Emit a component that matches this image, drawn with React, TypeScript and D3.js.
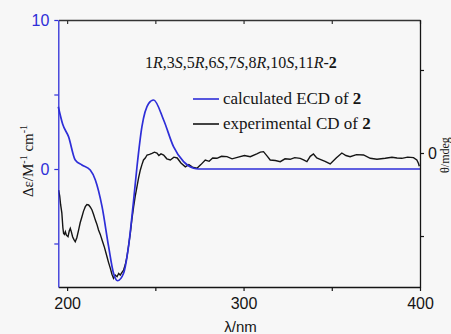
import React, { useEffect, useRef } from 'react';
import * as d3 from 'd3';

// calculated ECD (left axis, Δε)
const calcWl = [195, 197.5, 200.8, 204.6, 208.4, 213.1, 216, 219.8, 223.5, 226.3, 228.6, 232, 234.8, 237.7, 239.6, 242.4, 246.2, 249, 254.7, 260.3, 266, 271.7, 274.5, 300, 350, 400];
const calcDe = [4.18, 3.0, 2.17, 0.6, 0.27, -0.07, -0.74, -2.53, -5.2, -7.0, -7.5, -7.0, -5.2, -2.08, 0.15, 2.84, 4.4, 4.63, 3.29, 1.5, 0.49, 0.05, 0, 0, 0, 0];

// experimental CD (right axis, mdeg)
const expWl = [195.2, 195.8, 196.3, 197.0, 197.6, 198.0, 198.5, 199.0, 199.6, 200.5, 201.2, 201.8, 202.4, 203.1, 203.8, 204.6, 205.5, 206.5, 207.4, 208.4, 209.3, 210.3, 211.2, 212.2, 213.1, 214.1, 215.0, 216.0, 216.9, 217.8, 218.8, 219.8, 221.2, 222.6, 223.5, 224.5, 225.4, 226.3, 227.3, 228.3, 229.2, 230.1, 231.0, 232.0, 232.9, 233.9, 234.8, 235.8, 236.7, 237.7, 238.6, 239.6, 240.5, 241.5, 242.4, 243.3, 244.3, 245.3, 246.7, 248.1, 249.5, 250.9, 252.0, 253.2, 254.7, 256.5, 258.5, 260.5, 262.4, 264.5, 267.0, 269.0, 271.0, 273.6, 275.8, 278.3, 280.5, 282.5, 284.9, 287.5, 290.6, 293.5, 297.0, 300.5, 303.8, 307.5, 309.5, 311.3, 313.5, 315.1, 318.0, 320.8, 323.5, 326.4, 329.0, 332.1, 334.0, 335.9, 337.8, 339.6, 341.5, 343.4, 346.2, 349.1, 352.5, 355.7, 358.0, 360.4, 364.0, 368.0, 371.8, 375.6, 380.3, 384.1, 387.0, 389.7, 393.0, 396.3, 398.2, 399.1, 399.6];
const expCd = [-2.23, -2.6, -3.1, -3.6, -4.5, -4.84, -4.9, -4.74, -4.95, -5.04, -4.7, -4.54, -4.75, -5.04, -5.2, -5.34, -5.1, -4.64, -4.2, -3.84, -3.5, -3.23, -3.1, -3.13, -3.25, -3.43, -3.7, -4.04, -4.3, -4.64, -4.9, -5.24, -5.7, -6.25, -6.6, -6.95, -7.3, -7.55, -7.35, -7.45, -7.25, -7.35, -7.2, -7.05, -6.75, -6.25, -5.6, -4.84, -4.0, -3.23, -2.6, -2.03, -1.5, -1.02, -0.7, -0.42, -0.3, -0.12, -0.08, -0.02, 0.05, 0, -0.15, -0.05, -0.12, -0.35, -0.42, -0.25, -0.3, -0.6, -0.83, -0.7, -0.85, -0.92, -0.7, -0.42, -0.5, -0.3, -0.32, -0.2, -0.22, -0.35, -0.25, -0.15, -0.22, -0.05, 0.05, 0.08, -0.2, -0.42, -0.45, -0.52, -0.35, -0.38, -0.28, -0.32, -0.42, -0.52, -0.2, -0.06, -0.3, -0.38, -0.5, -0.66, -0.3, 0, -0.15, -0.22, -0.1, -0.12, -0.32, -0.38, -0.32, -0.26, -0.3, -0.32, -0.25, -0.28, -0.42, -0.62, -0.8];

const xTicks = [200, 250, 300, 350, 400];
const xLabels = [200, 300, 400];
const leftTicks = [-5, 0, 5, 10];
const leftLabels = [0, 10];
const rightTicks = [-5, 0, 5];
const rightLabels = [0];

const W = 451;
const H = 334;
const box = { left: 58.3, right: 420, top: 20, bottom: 287 };
const blue = '#2e2ed8';
const ink = '#151515';
const sans = '"Liberation Sans", Arial, sans-serif';
const serif = '"Liberation Serif", "Times New Roman", serif';

const App = () => {
  const ref = useRef(null);

  useEffect(() => {
    const svg = d3.select(ref.current);
    svg.selectAll('*').remove();
    draw(svg);
  });

  const x = d3.scaleLinear().domain([195, 400]).range([box.left, box.right]);
  const yL = d3.scaleLinear().domain([-7.92, 10]).range([box.bottom, box.top]);
  const yR = d3.scaleLinear().domain([-8.07, 8.01]).range([box.bottom, box.top]);

  const draw = (svg) => {
    svg.append('rect').attr('width', W).attr('height', H).attr('fill', '#f7f7f7');

    const calcLine = d3.line().x(i => x(calcWl[i])).y(i => yL(calcDe[i])).curve(d3.curveMonotoneX);
    const expLine = d3.line().x(i => x(expWl[i])).y(i => yR(expCd[i]));

    svg.append('path')
      .attr('d', expLine(d3.range(expWl.length)))
      .attr('fill', 'none').attr('stroke', ink).attr('stroke-width', 1.4);
    svg.append('path')
      .attr('d', calcLine(d3.range(calcWl.length)))
      .attr('fill', 'none').attr('stroke', blue).attr('stroke-width', 1.7);

    const styleAxis = (g, color) => {
      g.select('.domain').attr('stroke', color).attr('stroke-width', 1.3);
      g.selectAll('.tick line').attr('stroke', color).attr('stroke-width', 1.2);
      g.selectAll('.tick text').attr('fill', color).attr('font-family', sans).attr('font-size', 16);
    };

    svg.append('g')
      .attr('transform', `translate(0,${box.bottom})`)
      .call(d3.axisBottom(x).tickValues(xTicks).tickSize(4).tickSizeOuter(0).tickPadding(7)
        .tickFormat(d => (xLabels.includes(d) ? String(d) : '')))
      .call(g => styleAxis(g, ink));

    svg.append('g')
      .attr('transform', `translate(0,${box.top})`)
      .call(d3.axisTop(x).tickValues(xTicks).tickSize(-4).tickSizeOuter(0).tickFormat(() => ''))
      .call(g => styleAxis(g, '#333'));

    svg.append('g')
      .attr('transform', `translate(${box.right},0)`)
      .call(d3.axisRight(yR).tickValues(rightTicks).tickSize(4).tickSizeOuter(0).tickPadding(4)
        .tickFormat(d => (rightLabels.includes(d) ? String(d) : '')))
      .call(g => styleAxis(g, ink));

    svg.append('g')
      .attr('transform', `translate(${box.left},0)`)
      .call(d3.axisLeft(yL).tickValues(leftTicks).tickSize(4).tickSizeOuter(0).tickPadding(5)
        .tickFormat(d => (leftLabels.includes(d) ? String(d) : '')))
      .call(g => styleAxis(g, blue));

    // x label
    svg.append('text')
      .attr('x', x(300) - 3).attr('y', 332)
      .attr('text-anchor', 'middle').attr('font-family', sans).attr('font-size', 15).attr('fill', ink)
      .text('λ/nm');

    // left label
    const yl = svg.append('text')
      .attr('transform', 'translate(33,161) rotate(-90)')
      .attr('text-anchor', 'middle').attr('font-family', serif).attr('font-size', 15).attr('fill', ink);
    yl.append('tspan').text('Δε/M');
    yl.append('tspan').attr('dy', -6).attr('font-size', 10).text('-1');
    yl.append('tspan').attr('dy', 6).text(' cm');
    yl.append('tspan').attr('dy', -6).attr('font-size', 10).text('-1');

    // right label, squeezed against the page edge
    svg.append('text')
      .attr('transform', 'translate(449,155) rotate(-90)')
      .attr('text-anchor', 'middle').attr('font-family', serif).attr('font-size', 12).attr('fill', ink)
      .text('θ/mdeg');

    // configuration title
    const t = svg.append('text')
      .attr('x', 145).attr('y', 68)
      .attr('font-family', serif).attr('font-size', 16).attr('fill', ink);
    const parts = [['1', 0], ['R', 1], [',3', 0], ['S', 1], [',5', 0], ['R', 1], [',6', 0], ['S', 1], [',7', 0], ['S', 1], [',8', 0], ['R', 1], [',10', 0], ['S', 1], [',11', 0], ['R', 1], ['-', 0]];
    parts.forEach(([s, it]) => t.append('tspan').attr('font-style', it ? 'italic' : 'normal').text(s));
    t.append('tspan').attr('font-weight', 'bold').text('2');

    // legend
    const legend = [
      { color: blue, y: 99, text: 'calculated ECD of ' },
      { color: ink, y: 124, text: 'experimental CD of ' },
    ];
    legend.forEach(item => {
      svg.append('line')
        .attr('x1', 193).attr('x2', 219).attr('y1', item.y).attr('y2', item.y)
        .attr('stroke', item.color).attr('stroke-width', 1.6);
      const lt = svg.append('text')
        .attr('x', 223).attr('y', item.y + 5)
        .attr('font-family', serif).attr('font-size', 17).attr('fill', ink);
      lt.append('tspan').text(item.text);
      lt.append('tspan').attr('font-weight', 'bold').text('2');
    });
  };

  return (
    <svg
      ref={ref}
      width={W}
      height={H}
      style={{ position: 'absolute', left: 0, top: 0 }}
    />
  );
};

export default App;
